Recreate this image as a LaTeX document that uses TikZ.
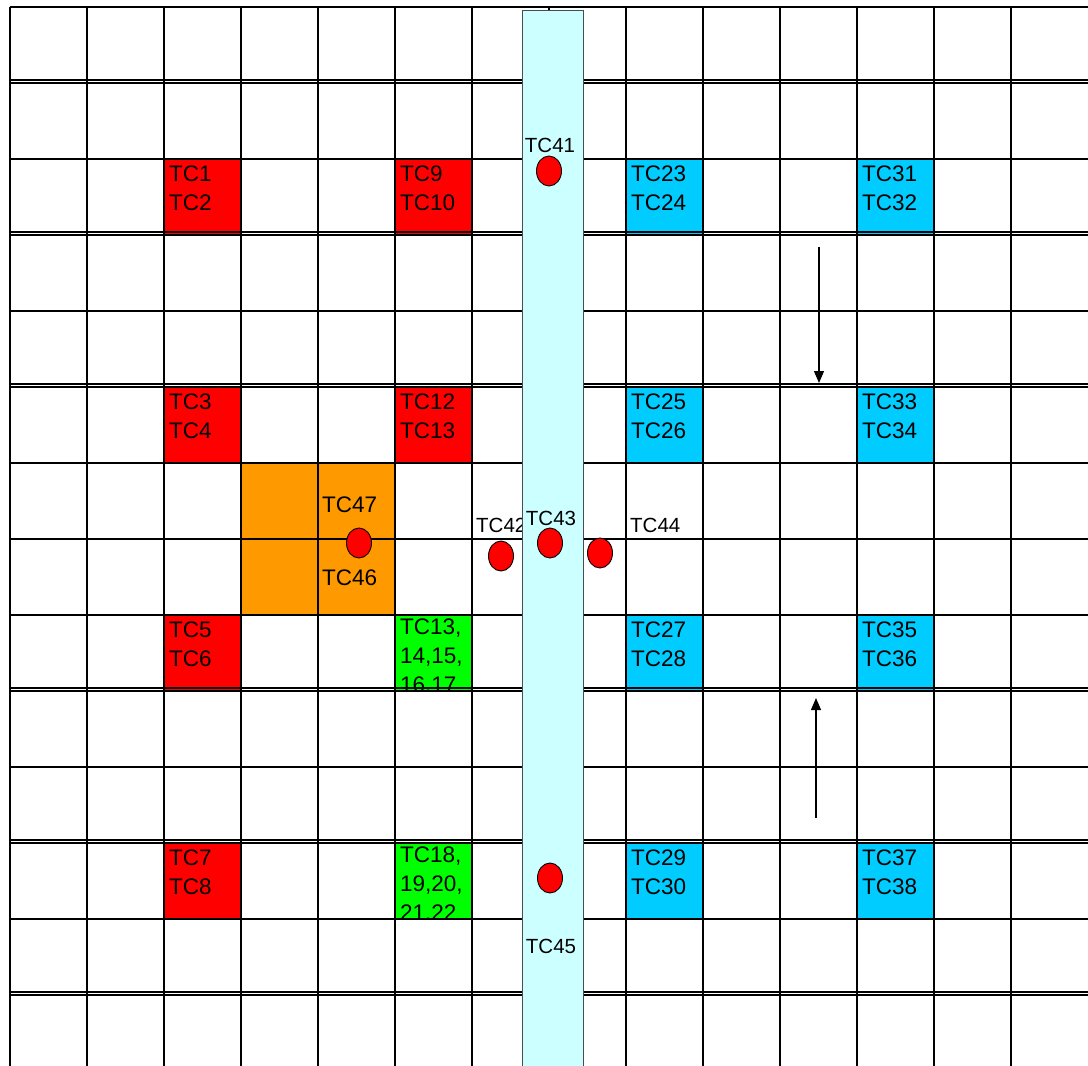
\documentclass[tikz,border=0pt]{standalone}
\usepackage{fontspec}
\setmainfont{Liberation Sans}
\usetikzlibrary{arrows.meta,shapes.geometric}
\definecolor{redc}{HTML}{FF0000}
\definecolor{cyanc}{HTML}{00CCFF}
\definecolor{orangec}{HTML}{FF9900}
\definecolor{greenc}{HTML}{00FF00}
\definecolor{stripc}{HTML}{CCFFFF}
\begin{document}
\begin{tikzpicture}[x=1pt,y=-1pt,
  gridline/.style={line width=2pt, black},
  celltext/.style={anchor=north west, inner sep=0pt, align=left, font=\fontsize{22.5}{28.7}\selectfont},
  tclabel/.style={inner sep=0pt, font=\fontsize{20.5}{25}\selectfont},
  tcdot/.style={ellipse, draw=black, fill=redc, line width=0.9pt, minimum width=25pt, minimum height=30pt, inner sep=0pt},
  flow/.style={line width=1.2pt, -{Triangle[length=12pt,width=10pt]}}]
\useasboundingbox (0,0) rectangle (1088,1066);
\fill[white] (0,0) rectangle (1088,1066);
% coloured cells
\foreach \x/\y in {164/159,164/387,164/615,164/843,395/159,395/387}
  \fill[redc] (\x,\y) rectangle ++(77,75);
\foreach \x/\y in {626/159,626/387,626/615,626/843,857/159,857/387,857/615,857/843}
  \fill[cyanc] (\x,\y) rectangle ++(77,75);
\foreach \x/\y in {395/615,395/843}
  \fill[greenc] (\x,\y) rectangle ++(77,75);
\fill[orangec] (241,463) rectangle (395,615);
% grid
\foreach \k in {0,...,14}
  \draw[gridline] (10,{7+76*\k}) -- (1088,{7+76*\k});
\foreach \yy in {83,235,387,691,843,995}
  \draw[gridline] (10,\yy-3.5) -- (1088,\yy-3.5);
\foreach \k in {0,...,13}
  \draw[gridline] ({10+77*\k},7) -- ({10+77*\k},1066);
% cell texts
\node[celltext] (tc1)  at (169,166) {TC1\\TC2};
\node[celltext] (tc3)  at (169,394) {TC3\\TC4};
\node[celltext] (tc5)  at (169,622) {TC5\\TC6};
\node[celltext] (tc7)  at (169,850) {TC7\\TC8};
\node[celltext] (tc9)  at (400,166) {TC9\\TC10};
\node[celltext] (tc12) at (400,394) {TC12\\TC13};
\node[celltext] (tc23) at (631,166) {TC23\\TC24};
\node[celltext] (tc25) at (631,394) {TC25\\TC26};
\node[celltext] (tc27) at (631,622) {TC27\\TC28};
\node[celltext] (tc29) at (631,850) {TC29\\TC30};
\node[celltext] (tc31) at (862,166) {TC31\\TC32};
\node[celltext] (tc33) at (862,394) {TC33\\TC34};
\node[celltext] (tc35) at (862,622) {TC35\\TC36};
\node[celltext] (tc37) at (862,850) {TC37\\TC38};
\begin{scope}
  \clip (395,615) rectangle (472,689);
  \node[celltext] (tc13g) at (400,619) {TC13,\\14,15,\\16,17};
\end{scope}
\begin{scope}
  \clip (395,843) rectangle (472,917);
  \node[celltext] (tc18g) at (400,847) {TC18,\\19,20,\\21,22};
\end{scope}
\node[celltext] (tc47) at (322,497) {TC47};
\node[celltext] (tc46) at (322,570) {TC46};
\node[tclabel, anchor=base west] (l42) at (476,532) {TC42};
% strip
\draw[fill=stripc, draw=black!70, line width=0.8pt] (522,10) rectangle (583,1075);
% dots
\node[tcdot] (e41) at (549,171) {};
\node[tcdot] (e47) at (359,543) {};
\node[tcdot] (e42) at (501,556) {};
\node[tcdot] (e43) at (550,543) {};
\node[tcdot] (e44) at (600,553) {};
\node[tcdot] (e45) at (550,878) {};
\node[tclabel, anchor=base] (l41) at (550,152) {TC41};
\node[tclabel, anchor=base] (l43) at (551,525) {TC43};
\node[tclabel, anchor=base west] (l44) at (630,532) {TC44};
\node[tclabel, anchor=base] (l45) at (551,953) {TC45};
% arrows
\coordinate (a1s) at (819,247);
\coordinate (a1e) at (819,383);
\coordinate (a2s) at (816,818);
\coordinate (a2e) at (816,698);
\draw[flow] (a1s) -- (a1e);
\draw[flow] (a2s) -- (a2e);
\end{tikzpicture}
\end{document}
